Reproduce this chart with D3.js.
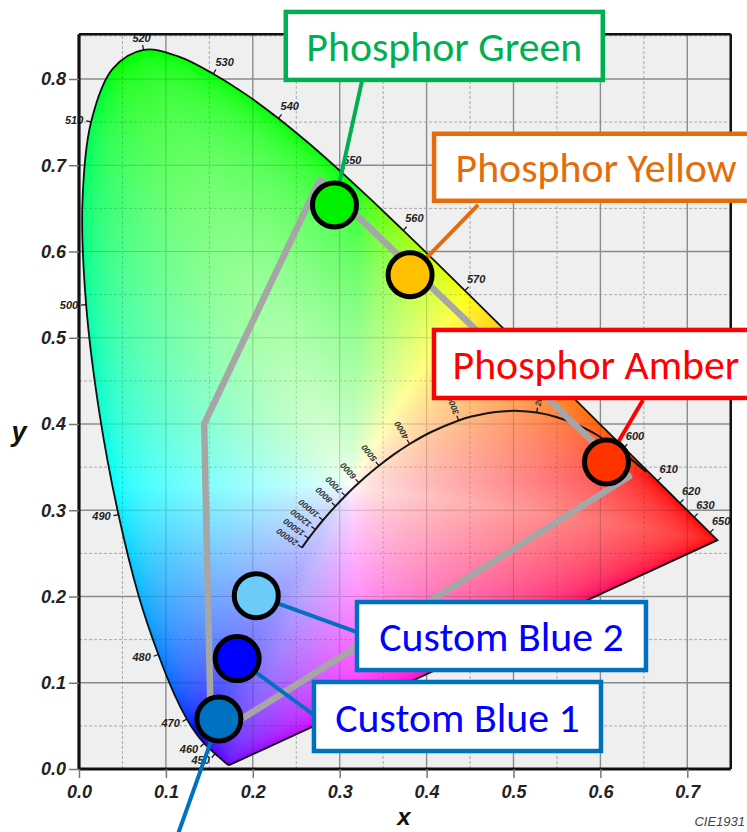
<!DOCTYPE html>
<html><head><meta charset="utf-8">
<script src="https://cdn.jsdelivr.net/npm/d3@7"></script>
<style>html,body{margin:0;padding:0;background:#fff;overflow:hidden}svg{display:block}</style>
</head><body><svg id="chart" width="747" height="832"></svg>
<script>
// ---------- DATA ----------
const wavelengths = [380,385,390,395,400,405,410,415,420,425,430,435,440,445,450,455,460,465,470,475,480,485,490,495,500,505,510,515,520,525,530,535,540,545,550,555,560,565,570,575,580,585,590,595,600,605,610,615,620,625,630,635,640,645,650,655,660,665,670,675,680,690,700];
const locusX = [0.1741,0.1740,0.1738,0.1736,0.1733,0.1730,0.1726,0.1721,0.1714,0.1703,0.1689,0.1669,0.1644,0.1611,0.1566,0.1510,0.1440,0.1355,0.1241,0.1096,0.0913,0.0687,0.0454,0.0235,0.0082,0.0039,0.0139,0.0389,0.0743,0.1142,0.1547,0.1929,0.2296,0.2658,0.3016,0.3373,0.3731,0.4087,0.4441,0.4788,0.5125,0.5448,0.5752,0.6029,0.6270,0.6482,0.6658,0.6801,0.6915,0.7006,0.7079,0.7140,0.7190,0.7230,0.7260,0.7283,0.7300,0.7311,0.7320,0.7327,0.7334,0.7344,0.7347];
const locusY = [0.0050,0.0050,0.0049,0.0049,0.0048,0.0048,0.0048,0.0048,0.0051,0.0058,0.0069,0.0086,0.0109,0.0138,0.0177,0.0227,0.0297,0.0399,0.0578,0.0868,0.1327,0.2007,0.2950,0.4127,0.5384,0.6548,0.7502,0.8120,0.8338,0.8262,0.8059,0.7816,0.7543,0.7243,0.6923,0.6589,0.6245,0.5896,0.5547,0.5202,0.4866,0.4544,0.4242,0.3965,0.3725,0.3514,0.3340,0.3197,0.3083,0.2993,0.2920,0.2859,0.2809,0.2770,0.2740,0.2717,0.2700,0.2689,0.2680,0.2673,0.2666,0.2656,0.2653];
const wavelengthLabels = [450,460,470,480,490,500,510,520,530,540,550,560,570,600,610,620,630,650];

const cctTemps = [1000,1200,1400,1500,1600,1800,2000,2200,2500,2800,3000,3500,4000,4500,5000,5500,6000,6500,7000,8000,9000,10000,12000,15000,20000];
const cctX = [0.6528,0.6251,0.5985,0.5857,0.5732,0.5492,0.5267,0.5056,0.4770,0.4515,0.4369,0.4053,0.3805,0.3608,0.3451,0.3325,0.3221,0.3135,0.3064,0.2952,0.2869,0.2807,0.2720,0.2642,0.2566];
const cctY = [0.3444,0.3674,0.3858,0.3931,0.3993,0.4082,0.4133,0.4152,0.4137,0.4086,0.4041,0.3907,0.3768,0.3636,0.3516,0.3411,0.3318,0.3237,0.3166,0.3048,0.2956,0.2884,0.2776,0.2674,0.2566];
const cctLabels = [2000,3000,4000,5000,6000,7000,8000,10000,12000,15000,20000];

const xTicks = [0,0.1,0.2,0.3,0.4,0.5,0.6,0.7];
const xTickLabels = ["0.0","0.1","0.2","0.3","0.4","0.5","0.6","0.7"];
const yTicks = [0,0.1,0.2,0.3,0.4,0.5,0.6,0.7,0.8];
const yTickLabels = ["0.0","0.1","0.2","0.3","0.4","0.5","0.6","0.7","0.8"];

const gamutX = [0.277,0.633,0.152,0.144];
const gamutY = [0.683,0.339,0.036,0.400];

const pointNames = ["Phosphor Green","Phosphor Yellow","Phosphor Amber","Custom Blue 2","Custom Blue 1",""];
const pointX = [0.294,0.381,0.607,0.204,0.182,0.161];
const pointY = [0.654,0.573,0.356,0.201,0.128,0.058];
const pointFill = ["#00f000","#ffc000","#ff3300","#6ccbf8","#0000ff","#0070c0"];
const calloutStroke = ["#00b050","#e46c0a","#ff0000","#0070c0","#0070c0","#0070c0"];
const calloutTextColor = ["#00b050","#e46c0a","#ff0000","#0000ff","#0000ff","#0000ff"];

// ---------- LAYOUT ----------
const W = 747, H = 832;
const svg = d3.select("#chart");
const x = d3.scaleLinear().domain([0, 0.75]).range([79, 730.75]);
const y = d3.scaleLinear().domain([0, 0.852]).range([769, 34.15]);
const XMAX = 0.75, YMAX = 0.852;
const defs = svg.append("defs");

const locusPts = wavelengths.map((w, i) => [x(locusX[i]), y(locusY[i])]);
const locusD = d3.line().curve(d3.curveCatmullRom)(locusPts) + "Z";
defs.append("clipPath").attr("id", "locusClip").append("path").attr("d", locusD);

// plot background
svg.append("rect").attr("x", x(0)).attr("y", y(YMAX))
  .attr("width", x(XMAX) - x(0)).attr("height", y(0) - y(YMAX)).attr("fill", "#efefef");

function drawGrid(g, majorColor, minorColor, majorW) {
  const minorXs = d3.range(0.05, XMAX, 0.1), minorYs = d3.range(0.05, YMAX, 0.1);
  const majorXs = xTicks.slice(1), majorYs = yTicks.slice(1);
  g.selectAll(".mnx").data(minorXs).join("line")
    .attr("x1", d => x(d)).attr("x2", d => x(d)).attr("y1", y(0)).attr("y2", y(YMAX))
    .attr("stroke", minorColor).attr("stroke-width", 1).attr("stroke-dasharray", "3,2");
  g.selectAll(".mny").data(minorYs).join("line")
    .attr("y1", d => y(d)).attr("y2", d => y(d)).attr("x1", x(0)).attr("x2", x(XMAX))
    .attr("stroke", minorColor).attr("stroke-width", 1).attr("stroke-dasharray", "3,2");
  g.selectAll(".mjx").data(majorXs).join("line")
    .attr("x1", d => x(d)).attr("x2", d => x(d)).attr("y1", y(0)).attr("y2", y(YMAX))
    .attr("stroke", majorColor).attr("stroke-width", majorW);
  g.selectAll(".mjy").data(majorYs).join("line")
    .attr("y1", d => y(d)).attr("y2", d => y(d)).attr("x1", x(0)).attr("x2", x(XMAX))
    .attr("stroke", majorColor).attr("stroke-width", majorW);
}
drawGrid(svg.append("g"), "#8c8c8c", "#a8a8a8", 1.4);

// ---------- chromaticity fill (canvas) ----------
function gammaC(v) { v = Math.min(1, Math.max(0, v)); return v <= 0.0031308 ? 12.92 * v : 1.055 * Math.pow(v, 1 / 2.4) - 0.055; }
function xyToLinear(cx, cy) {
  const X = cx / cy, Y = 1, Z = (1 - cx - cy) / cy;
  let r = 3.2406 * X - 1.5372 * Y - 0.4986 * Z;
  let g = -0.9689 * X + 1.8758 * Y + 0.0415 * Z;
  let b = 0.0557 * X - 0.2040 * Y + 1.0570 * Z;
  r = Math.max(0, r); g = Math.max(0, g); b = Math.max(0, b);
  const m = Math.max(r, g, b) || 1;
  return [r / m, g / m, b / m];
}
// boundary (spectral locus + line of purples) in chromaticity units
const WX = 0.3127, WY = 0.329;
const NA = 2048, bDist = new Float64Array(NA), bCol = [];
const poly = wavelengths.map((w, i) => [locusX[i], locusY[i]]);
for (let a = 0; a < NA; a++) {
  const th = a / NA * 2 * Math.PI, dx = Math.cos(th), dy = Math.sin(th);
  let best = Infinity;
  for (let k = 0; k < poly.length; k++) {
    const p = poly[k], q = poly[(k + 1) % poly.length];
    const ex = q[0] - p[0], ey = q[1] - p[1];
    const den = dx * ey - dy * ex;
    if (Math.abs(den) < 1e-12) continue;
    const wx = p[0] - WX, wy = p[1] - WY;
    const t = (wx * ey - wy * ex) / den;
    const s = (wx * dy - wy * dx) / den;
    if (t > 0 && s >= 0 && s <= 1 && t < best) best = t;
  }
  bDist[a] = best;
  const bx = WX + dx * best * 0.985, by = Math.max(0.004, WY + dy * best * 0.985);
  bCol.push(xyToLinear(bx, by));
}
const px0 = Math.floor(x(0)), px1 = Math.ceil(x(XMAX)), py0 = Math.floor(y(YMAX)), py1 = Math.ceil(y(0));
const cw = px1 - px0, ch = py1 - py0;
const canvas = document.createElement("canvas");
canvas.width = cw; canvas.height = ch;
const ctx = canvas.getContext("2d");
const img = ctx.createImageData(cw, ch);
for (let j = 0; j < ch; j++) {
  const cy = y.invert(py0 + j + 0.5);
  for (let i = 0; i < cw; i++) {
    const cx = x.invert(px0 + i + 0.5);
    const ddx = cx - WX, ddy = cy - WY;
    let th = Math.atan2(ddy, ddx); if (th < 0) th += 2 * Math.PI;
    const ai = Math.round(th / (2 * Math.PI) * NA) % NA;
    const t = Math.min(1, Math.hypot(ddx, ddy) / bDist[ai]);
    const s = Math.pow(t, 0.5);
    const C = bCol[ai];
    const k = (j * cw + i) * 4;
    img.data[k] = gammaC(1 - (1 - C[0]) * s) * 255;
    img.data[k + 1] = gammaC(1 - (1 - C[1]) * s) * 255;
    img.data[k + 2] = gammaC(1 - (1 - C[2]) * s) * 255;
    img.data[k + 3] = 255;
  }
}
ctx.putImageData(img, 0, 0);
svg.append("image").attr("href", canvas.toDataURL()).attr("x", px0).attr("y", py0)
  .attr("width", cw).attr("height", ch).attr("preserveAspectRatio", "none")
  .attr("clip-path", "url(#locusClip)");

// faint grid over the colour fill
const gridFront = svg.append("g").attr("clip-path", "url(#locusClip)").attr("opacity", 0.16);
drawGrid(gridFront, "#000", "#000", 1.2);

// locus outline
svg.append("path").attr("d", locusD).attr("fill", "none").attr("stroke", "#111").attr("stroke-width", 1.8);

// ---------- Planckian locus ----------
const cctPts = cctTemps.map((t, i) => [x(cctX[i]), y(cctY[i])]);
svg.append("path").attr("d", d3.line().curve(d3.curveCatmullRom)(cctPts))
  .attr("fill", "none").attr("stroke", "#151515").attr("stroke-width", 2);
const wpx = [x(WX), y(WY)];
const cctG = svg.append("g");
cctLabels.forEach(t => {
  const i = cctTemps.indexOf(t);
  const a = cctPts[Math.max(0, i - 1)], b = cctPts[Math.min(cctPts.length - 1, i + 1)];
  let tx = b[0] - a[0], ty = b[1] - a[1];
  const L = Math.hypot(tx, ty); tx /= L; ty /= L;
  let nx = ty, ny = -tx;
  if (ny > 0) { nx = -nx; ny = -ny; }
  const p = cctPts[i];
  cctG.append("line").attr("x1", p[0]).attr("y1", p[1]).attr("x2", p[0] + nx * 5).attr("y2", p[1] + ny * 5)
    .attr("stroke", "#151515").attr("stroke-width", 1.2);
  const ang = Math.atan2(ny, nx) * 180 / Math.PI;
  cctG.append("text").attr("transform", `translate(${p[0] + nx * 6.5},${p[1] + ny * 6.5}) rotate(${ang})`)
    .attr("dy", "0.35em").attr("font-family", "Liberation Sans, Arial, sans-serif").attr("font-size", 8.5)
    .attr("font-style", "italic").attr("font-weight", "bold").attr("fill", "#333").text(t);
});

// ---------- gamut polygon ----------
const gamutPts = gamutX.map((gx, i) => [x(gx), y(gamutY[i])]);
svg.append("path").attr("d", d3.line()(gamutPts) + "Z").attr("fill", "none")
  .attr("stroke", "#a6a6a6").attr("stroke-width", 6.5).attr("stroke-linejoin", "round");

// ---------- wavelength ticks & labels ----------
const wlG = svg.append("g");
wavelengthLabels.forEach(w => {
  const i = wavelengths.indexOf(w);
  const a = locusPts[Math.max(0, i - 1)], b = locusPts[Math.min(locusPts.length - 1, i + 1)];
  let tx = b[0] - a[0], ty = b[1] - a[1];
  const L = Math.hypot(tx, ty); tx /= L; ty /= L;
  let nx = ty, ny = -tx;
  const p = locusPts[i];
  if (nx * (p[0] - wpx[0]) + ny * (p[1] - wpx[1]) < 0) { nx = -nx; ny = -ny; }
  wlG.append("line").attr("x1", p[0]).attr("y1", p[1]).attr("x2", p[0] + nx * 5).attr("y2", p[1] + ny * 5)
    .attr("stroke", "#111").attr("stroke-width", 1.2);
  let lx, ly, anchor;
  if (w === 520) { lx = p[0] - 2; ly = p[1] - 8; anchor = "middle"; }
  else if (w < 520) { lx = p[0] + nx * 8; ly = p[1] + ny * 8 + 4; anchor = "end"; }
  else { lx = p[0] + 2; ly = p[1] - 8; anchor = "start"; }
  wlG.append("text").attr("x", lx).attr("y", ly).attr("text-anchor", anchor)
    .attr("font-family", "Liberation Sans, Arial, sans-serif").attr("font-size", 11)
    .attr("font-weight", "bold").attr("font-style", "italic").attr("fill", "#222").text(w);
});

// ---------- frame & axes ----------
const frame = svg.append("g");
frame.append("line").attr("x1", x(0)).attr("x2", x(XMAX)).attr("y1", y(YMAX)).attr("y2", y(YMAX)).attr("stroke", "#111").attr("stroke-width", 2.5);
frame.append("line").attr("x1", x(XMAX)).attr("x2", x(XMAX)).attr("y1", y(0)).attr("y2", y(YMAX)).attr("stroke", "#111").attr("stroke-width", 2.5);

const axisFont = "Liberation Sans, Arial, sans-serif";
const xAxis = svg.append("g").attr("transform", `translate(0,${y(0)})`)
  .call(d3.axisBottom(x).tickValues(xTicks).tickFormat((d, i) => xTickLabels[i]).tickSize(9).tickPadding(7));
const yAxis = svg.append("g").attr("transform", `translate(${x(0)},0)`)
  .call(d3.axisLeft(y).tickValues(yTicks).tickFormat((d, i) => yTickLabels[i]).tickSize(10).tickPadding(3));
[xAxis, yAxis].forEach(ax => {
  ax.select(".domain").attr("stroke", "#111").attr("stroke-width", 3.2);
  ax.selectAll(".tick line").attr("stroke", "#777").attr("stroke-width", 1.5);
  ax.selectAll(".tick text").attr("font-family", axisFont).attr("font-size", 18)
    .attr("font-weight", "bold").attr("font-style", "italic").attr("fill", "#222");
});
xAxis.select(".domain").attr("d", `M${x(0)},0H${x(XMAX)}`);
yAxis.select(".domain").attr("d", `M0,${y(0)}V${y(YMAX)}`);

svg.append("text").attr("x", 19).attr("y", 441).attr("text-anchor", "middle")
  .attr("font-family", axisFont).attr("font-size", 27).attr("font-weight", "bold").attr("font-style", "italic")
  .attr("fill", "#111").text("y");
svg.append("text").attr("x", 404).attr("y", 825).attr("text-anchor", "middle")
  .attr("font-family", axisFont).attr("font-size", 24).attr("font-weight", "bold").attr("font-style", "italic")
  .attr("fill", "#111").text("x");
svg.append("text").attr("x", 745).attr("y", 826).attr("text-anchor", "end")
  .attr("font-family", axisFont).attr("font-size", 13).attr("font-style", "italic")
  .attr("fill", "#444").text("CIE1931");

// ---------- callouts ----------
// box offsets relative to each point (pixels): [dx, dy, w, h], leader end [lx, ly]
const boxLayout = [[-48.7, -193, 317, 68], [24, -141, 324, 67], [-172.5, -132, 324, 68], [100.7, 6.4, 289, 68], [76.8, 23.4, 287, 69], null];
const leaderLayout = [[27.3, -123], [68, -70], [36.5, -62], [100.7, 36.4], [76.8, 56.4], [-48, 135]];
const R = 22;
const centers = pointX.map((px, i) => [x(px), y(pointY[i])]);

const calloutFont = "Carlito, Calibri, Lato, 'Open Sans', sans-serif";
const probe = svg.append("text").attr("font-family", calloutFont).attr("font-size", 40).text("Phosphor Green");
const probeW = probe.node().getComputedTextLength();
probe.remove();
const calloutSize = 40 * 276 / probeW;

const leaders = svg.append("g");
centers.forEach((c, i) => {
  leaders.append("line").attr("x1", c[0]).attr("y1", c[1])
    .attr("x2", c[0] + leaderLayout[i][0]).attr("y2", c[1] + leaderLayout[i][1])
    .attr("stroke", calloutStroke[i]).attr("stroke-width", 4);
});
svg.append("g").selectAll("circle").data(centers).join("circle")
  .attr("cx", d => d[0]).attr("cy", d => d[1]).attr("r", R)
  .attr("fill", (d, i) => pointFill[i]).attr("stroke", "#000").attr("stroke-width", 5);

const boxes = svg.append("g");
centers.forEach((c, i) => {
  const bl = boxLayout[i];
  if (!bl) return;
  const bx = c[0] + bl[0], by = c[1] + bl[1];
  boxes.append("rect").attr("x", bx).attr("y", by).attr("width", bl[2]).attr("height", bl[3])
    .attr("fill", "#fff").attr("stroke", calloutStroke[i]).attr("stroke-width", 4.5);
  boxes.append("text").attr("x", bx + bl[2] / 2).attr("y", by + bl[3] / 2 + calloutSize * 0.36)
    .attr("text-anchor", "middle").attr("font-family", calloutFont).attr("font-size", calloutSize)
    .attr("fill", calloutTextColor[i]).text(pointNames[i]);
});
</script>
</body></html>
